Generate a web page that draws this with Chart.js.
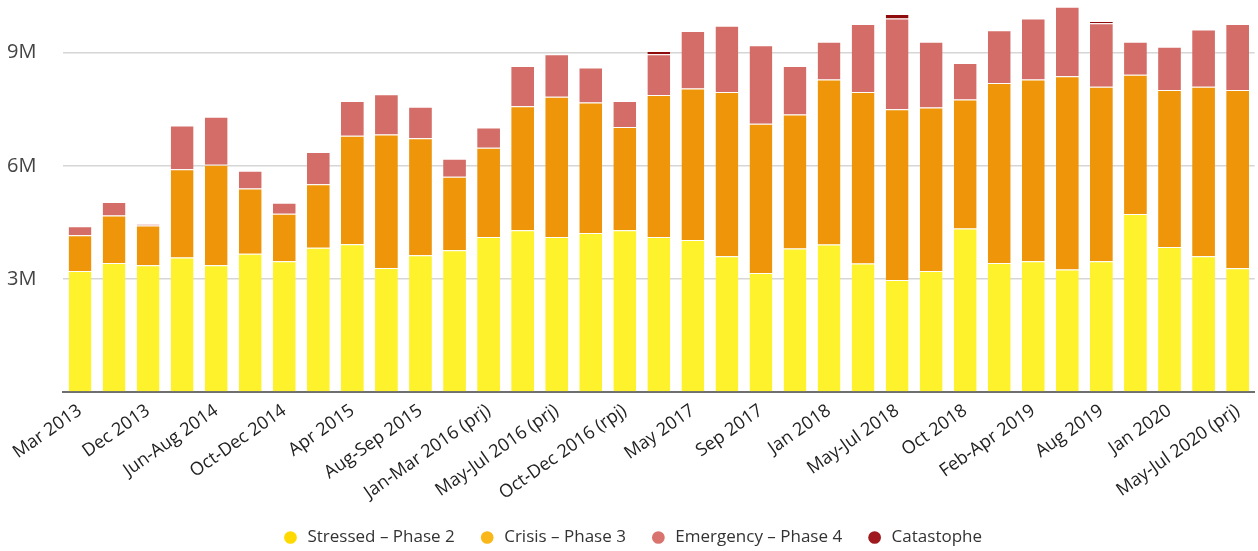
<!DOCTYPE html>
<html>
<head>
<meta charset="utf-8">
<script src="https://cdn.jsdelivr.net/npm/chart.js@4/dist/chart.umd.min.js"></script>
<style>
  html, body { margin: 0; padding: 0; background: #ffffff; }
  #wrap { width: 1258px; height: 551px; }
</style>
</head>
<body>
<div id="wrap"><canvas id="c" width="1258" height="551"></canvas></div>
<script>
// Categories (only every other one is labelled on the axis)
const categories = [
  "Mar 2013", "Jun 2013", "Dec 2013", "Mar 2014", "Jun-Aug 2014", "Sep 2014",
  "Oct-Dec 2014", "Jan-Mar 2015", "Apr 2015", "Jun 2015", "Aug-Sep 2015", "Oct-Dec 2015",
  "Jan-Mar 2016 (prj)", "Apr 2016", "May-Jul 2016 (prj)", "Aug-Sep 2016 (prj)", "Oct-Dec 2016 (rpj)", "Feb 2017",
  "May 2017", "Jun 2017", "Sep 2017", "Oct-Dec 2017", "Jan 2018", "Mar 2018",
  "May-Jul 2018", "Aug-Sep 2018", "Oct 2018", "Dec 2018", "Feb-Apr 2019", "May-Jul 2019",
  "Aug 2019", "Sep-Dec 2019", "Jan 2020", "Feb-Apr 2020", "May-Jul 2020 (prj)"
];

// Values in millions of people
const stressed = [
  3.21, 3.42, 3.36, 3.57, 3.36, 3.67, 3.47, 3.83, 3.92, 3.29, 3.63, 3.76,
  4.11, 4.29, 4.11, 4.22, 4.29, 4.11, 4.03, 3.60, 3.16, 3.81, 3.91, 3.41,
  2.97, 3.21, 4.34, 3.42, 3.47, 3.25, 3.47, 4.72, 3.85, 3.60, 3.28
];
const crisis = [
  0.95, 1.26, 1.06, 2.34, 2.67, 1.73, 1.26, 1.68, 2.88, 3.54, 3.10, 1.95,
  2.37, 3.29, 3.72, 3.46, 2.74, 3.77, 4.02, 4.36, 3.96, 3.55, 4.38, 4.55,
  4.53, 4.34, 3.42, 4.78, 4.82, 5.13, 4.63, 3.70, 4.16, 4.50, 4.73
];
const emergency = [
  0.24, 0.36, 0.04, 1.16, 1.27, 0.47, 0.29, 0.86, 0.92, 1.07, 0.84, 0.48,
  0.54, 1.07, 1.13, 0.93, 0.69, 1.08, 1.53, 1.76, 2.08, 1.29, 1.00, 1.80,
  2.41, 1.74, 0.97, 1.40, 1.62, 1.84, 1.68, 0.87, 1.15, 1.52, 1.75
];
const catastrophe = [
  0, 0, 0, 0, 0, 0, 0, 0, 0, 0, 0, 0,
  0, 0, 0, 0, 0, 0.09, 0, 0, 0, 0, 0, 0,
  0.12, 0, 0, 0, 0, 0, 0.06, 0, 0, 0, 0
];
const seriesNames = ["Stressed – Phase 2", "Crisis – Phase 3", "Emergency – Phase 4", "Catastophe"];
const yTicks = [0, 3, 6, 9];

const barColors = ["#FDF22B", "#EE9509", "#D46D67", "#8E0B0B"];
const legendColors = ["#FFD900", "#F9B71A", "#D9736E", "#9E1A1E"];

const FONT = "'Open Sans', 'Noto Sans', sans-serif";

const ds = [stressed, crisis, emergency, catastrophe].map((vals, i) => ({
  label: seriesNames[i],
  data: vals,
  backgroundColor: barColors[i],
  borderColor: "rgba(255,255,255,0.55)",
  borderWidth: { top: 1, bottom: 0, left: 0, right: 0 },
  borderSkipped: false,
  categoryPercentage: 1.0,
  barPercentage: 0.67
}));

new Chart(document.getElementById("c"), {
  type: "bar",
  data: { labels: categories, datasets: ds },
  options: {
    responsive: false,
    animation: false,
    devicePixelRatio: 1,
    layout: { padding: { left: 7, right: 1, top: 0, bottom: -5 } },
    plugins: {
      tooltip: { enabled: false },
      legend: {
        position: "bottom",
        labels: {
          usePointStyle: true,
          pointStyle: "circle",
          boxHeight: 9,
          padding: 24,
          color: "#333",
          font: { family: FONT, size: 17 },
          generateLabels: (chart) => chart.data.datasets.map((d, i) => ({
            text: d.label,
            fillStyle: legendColors[i],
            strokeStyle: legendColors[i],
            lineWidth: 0,
            pointStyle: "circle",
            hidden: false,
            datasetIndex: i,
            fontColor: "#333"
          }))
        }
      }
    },
    scales: {
      x: {
        stacked: true,
        grid: { display: false, drawTicks: false },
        border: { display: true, color: "#6f6f6f", width: 2 },
        afterFit: (s) => { s.height = 113; },
        ticks: {
          autoSkip: false,
          maxRotation: 35,
          minRotation: 35,
          padding: 8,
          color: "#222",
          font: { family: FONT, size: 18 },
          callback: function (v, i) { return i % 2 === 0 ? categories[i] : ""; }
        }
      },
      y: {
        stacked: true,
        min: 0,
        max: 10.4,
        afterFit: (s) => { s.width = 56; s.paddingTop = 0; s.paddingBottom = 0; },
        afterBuildTicks: (s) => { s.ticks = yTicks.map(v => ({ value: v })); },
        border: { display: false },
        grid: {
          drawTicks: false,
          color: (ctx) => ctx.tick && ctx.tick.value === 0 ? "rgba(0,0,0,0)" : "#d6d6d6",
          lineWidth: 1.5
        },
        ticks: {
          padding: 0,
          crossAlign: "far",
          color: "#444",
          font: { family: FONT, size: 20 },
          callback: (v) => v === 0 ? "" : v + "M"
        }
      }
    }
  }
});
</script>
</body>
</html>
